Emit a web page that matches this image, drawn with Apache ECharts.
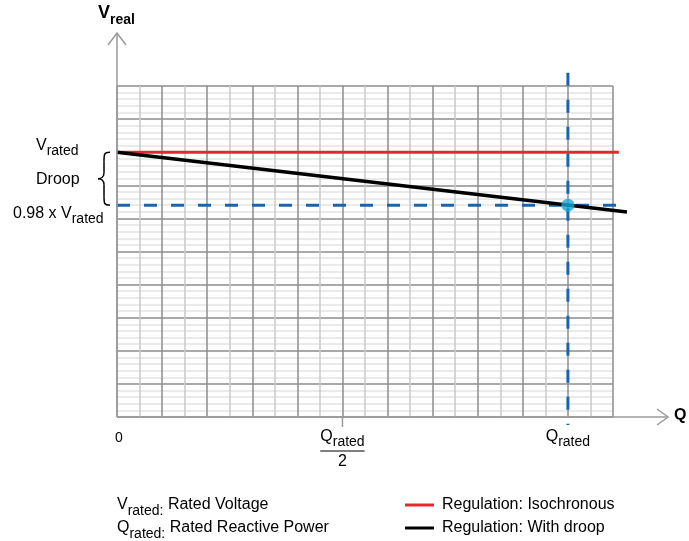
<!DOCTYPE html>
<html><head><meta charset="utf-8">
<script src="https://cdn.jsdelivr.net/npm/echarts/dist/echarts.min.js"></script>
<style>html,body{margin:0;padding:0;background:#fff}#c{width:689px;height:541px}</style>
</head><body><div id="c"></div>
<script>
// ---- data (x: % of Q rated, y: % of V rated) ----
const isoX = [0, 111.3];
const isoY = [100, 100];
const droopX = [0, 113.1];
const droopY = [100, 97.74];
const guideHX = [0, 111];
const guideHY = [98, 98];
const guideVX = [100, 100];
const guideVY = [103, 89.7];
const pointX = [100];
const pointY = [98];
const qTickValues = [0, 50, 100];
const vLevels = [100, 98];
const seriesNames = ['Regulation: Isochronous', 'Regulation: With droop'];

const FONT = '"Liberation Sans", Arial, sans-serif';
const zip = (a, b) => a.map((v, i) => [v, b[i]]);

// layout: the visible grid spans Q 0..110; the marks use an overlay grid with the same scale but a wider extent
const W = 689, LEFT = 117, RIGHT = 76, TOP = 86, BOTTOM = 124;
const X_MAX = 110, X_MAX_MARKS = 120;
const gridW = W - LEFT - RIGHT;
const RIGHT2 = W - LEFT - gridW * X_MAX_MARKS / X_MAX;

const chart = echarts.init(document.getElementById('c'), null, {renderer: 'canvas'});
const legendBase = {
  orient: 'vertical', left: 405, padding: 0,
  itemWidth: 29, itemHeight: 3, icon: 'rect', selectedMode: false,
  textStyle: {fontSize: 16, color: '#000', fontFamily: FONT, padding: [0, 0, 0, 3]}
};
const hiddenAxis = {axisLine: {show: false}, axisTick: {show: false}, axisLabel: {show: false}, splitLine: {show: false}};
const option = {
  animation: false,
  backgroundColor: '#fff',
  grid: [
    {left: LEFT, right: RIGHT, top: TOP, bottom: BOTTOM},
    {left: LEFT, right: RIGHT2, top: TOP, bottom: BOTTOM}
  ],
  xAxis: [{
    type: 'value', min: 0, max: X_MAX, interval: 10, gridIndex: 0,
    axisLine: {show: false}, axisTick: {show: false}, axisLabel: {show: false},
    splitLine: {show: true, lineStyle: {color: '#8c8c8c', width: 1.5}},
    minorTick: {show: false, splitNumber: 2},
    minorSplitLine: {show: true, lineStyle: {color: '#c9c9c9', width: 1.5}}
  }, Object.assign({type: 'value', min: 0, max: X_MAX_MARKS, gridIndex: 1}, hiddenAxis)],
  yAxis: [{
    type: 'value', min: 90, max: 102.5, interval: 1.25, gridIndex: 0,
    axisLine: {show: false}, axisTick: {show: false}, axisLabel: {show: false},
    splitLine: {show: true, lineStyle: {color: '#8c8c8c', width: 1.5}},
    minorTick: {show: false, splitNumber: 5},
    minorSplitLine: {show: true, lineStyle: {color: '#e3e3e3', width: 1.5}}
  }, Object.assign({type: 'value', min: 90, max: 102.5, gridIndex: 1}, hiddenAxis)],
  legend: [
    Object.assign({}, legendBase, {data: [seriesNames[0]], top: 497}),
    Object.assign({}, legendBase, {data: [seriesNames[1]], top: 520})
  ],
  series: [
    {name: seriesNames[0], type: 'line', xAxisIndex: 1, yAxisIndex: 1, data: zip(isoX, isoY), symbol: 'none', clip: false, z: 3,
     lineStyle: {color: '#e8262d', width: 3}, itemStyle: {color: '#e8262d'}},
    {name: 'guideH', type: 'line', xAxisIndex: 1, yAxisIndex: 1, data: zip(guideHX, guideHY), symbol: 'none', clip: false, z: 4,
     lineStyle: {color: '#1a64ad', width: 3, type: [13, 14]}},
    {name: 'guideV', type: 'line', xAxisIndex: 1, yAxisIndex: 1, data: zip(guideVX, guideVY), symbol: 'none', clip: false, z: 4,
     lineStyle: {color: '#1a64ad', width: 3, type: [13, 14]}},
    {name: seriesNames[1], type: 'line', xAxisIndex: 1, yAxisIndex: 1, data: zip(droopX, droopY), symbol: 'none', clip: false, z: 5,
     lineStyle: {color: '#000', width: 3.5}, itemStyle: {color: '#000'}},
    {name: 'point', type: 'scatter', xAxisIndex: 1, yAxisIndex: 1, data: zip(pointX, pointY), symbolSize: 13, z: 6,
     itemStyle: {color: '#17a9d6'}}
  ]
};
chart.setOption(option);

// ---- annotations positioned from the axis scales ----
const ctx = document.createElement('canvas').getContext('2d');
function tw(t, size, bold) { ctx.font = (bold ? 'bold ' : '') + size + 'px ' + FONT; return ctx.measureText(t).width; }
function comp(parts, x, y, center) {
  const total = parts.reduce((s, p) => s + tw(p.t, p.size, p.bold), 0);
  let cx = center ? x - total / 2 : x;
  const out = [];
  parts.forEach(p => {
    out.push({type: 'text', x: cx, y: y + (p.dy || 0), silent: true, z: 10,
      style: {text: p.t, fontSize: p.size, fontFamily: FONT, fontWeight: p.bold ? 'bold' : 'normal',
              fill: '#000', align: 'left', verticalAlign: 'middle'}});
    cx += tw(p.t, p.size, p.bold);
  });
  return {els: out, width: total};
}
const px = (x, y) => chart.convertToPixel({gridIndex: 0}, [x, y]);
const o = px(0, 90), topRight = px(X_MAX, 102.5);
const yV = px(0, vLevels[0])[1], y98 = px(0, vLevels[1])[1];
const axisColor = '#9a9a9a';
const g = [];
const ln = (x1, y1, x2, y2, c, w) => ({type: 'line', silent: true, z: 9, shape: {x1, y1, x2, y2}, style: {stroke: c, lineWidth: w}});
const bz = (x1, y1, cpx1, cpy1, cpx2, cpy2, x2, y2) => ({type: 'bezierCurve', silent: true, z: 9,
  shape: {x1, y1, cpx1, cpy1, cpx2, cpy2, x2, y2}, style: {stroke: '#000', lineWidth: 1.5, fill: null}});
// axes with open arrows
g.push(ln(o[0], o[1], o[0], topRight[1] - 53, axisColor, 1.5));
g.push({type: 'polyline', silent: true, z: 9, shape: {points: [[o[0] - 9, topRight[1] - 41], [o[0], topRight[1] - 53], [o[0] + 9, topRight[1] - 41]]}, style: {stroke: axisColor, lineWidth: 1.5, fill: null}});
g.push(ln(o[0], o[1], topRight[0] + 55, o[1], axisColor, 1.5));
g.push({type: 'polyline', silent: true, z: 9, shape: {points: [[topRight[0] + 44, o[1] - 8], [topRight[0] + 55, o[1]], [topRight[0] + 44, o[1] + 8]]}, style: {stroke: axisColor, lineWidth: 1.5, fill: null}});
// tick at Q/2
const xHalf = px(qTickValues[1], 90)[0];
g.push(ln(xHalf, o[1], xHalf, o[1] + 10, axisColor, 1.5));
// axis titles
g.push(...comp([{t: 'V', size: 18, bold: true}, {t: 'real', size: 14, bold: true, dy: 7}], o[0] - 19, 13, false).els);
g.push(...comp([{t: 'Q', size: 16, bold: true}], topRight[0] + 61, o[1] - 1, false).els);
// y labels
g.push(...comp([{t: 'V', size: 16}, {t: 'rated', size: 14, dy: 6}], 36, yV - 7, false).els);
g.push(...comp([{t: 'Droop', size: 16}], 36, (yV + y98) / 2 + 1, false).els);
g.push(...comp([{t: '0.98 x V', size: 16}, {t: 'rated', size: 14, dy: 6}], 13, y98 + 8, false).els);
// brace
const bx = o[0] - 13, m = (yV + y98) / 2;
g.push(bz(bx + 6, yV, bx, yV, bx, yV + 2, bx, yV + 9));
g.push(ln(bx, yV + 9, bx, m - 6, '#000', 1.5));
g.push(bz(bx, m - 6, bx, m - 2, bx - 3, m, bx - 6, m));
g.push(bz(bx - 6, m, bx - 3, m, bx, m + 2, bx, m + 6));
g.push(ln(bx, m + 6, bx, y98 - 9, '#000', 1.5));
g.push(bz(bx, y98 - 9, bx, y98 - 2, bx, y98, bx + 6, y98));
// x labels
const x0 = px(qTickValues[0], 90)[0], xQ = px(qTickValues[2], 90)[0];
g.push(...comp([{t: '0', size: 14}], x0 - 2, o[1] + 21, false).els);
const fr = comp([{t: 'Q', size: 16}, {t: 'rated', size: 14, dy: 5}], xHalf, o[1] + 20, true);
g.push(...fr.els);
g.push(ln(xHalf - fr.width / 2, o[1] + 34, xHalf + fr.width / 2, o[1] + 34, '#000', 1.2));
g.push(...comp([{t: '2', size: 16}], xHalf, o[1] + 45, true).els);
g.push(...comp([{t: 'Q', size: 16}, {t: 'rated', size: 14, dy: 5}], xQ, o[1] + 20, true).els);
// footnotes
g.push(...comp([{t: 'V', size: 16}, {t: 'rated:', size: 14, dy: 6}, {t: ' Rated Voltage', size: 16}], 117, 505, false).els);
g.push(...comp([{t: 'Q', size: 16}, {t: 'rated:', size: 14, dy: 6}, {t: ' Rated Reactive Power', size: 16}], 117, 528, false).els);

chart.setOption({graphic: g});
</script></body></html>
